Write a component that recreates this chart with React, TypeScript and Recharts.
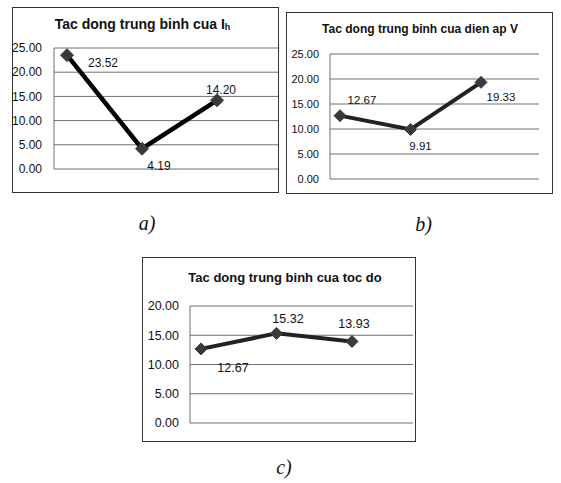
import React from 'react';
import { LineChart, Line, XAxis, YAxis, CartesianGrid } from 'recharts';

// factor levels (no x labels are drawn)
const levels = ['Muc 1', 'Muc 2', 'Muc 3'];

const ihValues = [23.52, 4.19, 14.2];
const voltageValues = [12.67, 9.91, 19.33];
const speedValues = [12.67, 15.32, 13.93];

const ticksTo25 = [0, 5, 10, 15, 20, 25];
const ticksTo20 = [0, 5, 10, 15, 20];

const toRows = (values: number[]) => levels.map((name, i) => ({ name, value: values[i] }));

const FONT = '"Liberation Sans", Arial, sans-serif';

interface PanelProps {
  left: number;
  top: number;
  width: number;
  height: number;
  values: number[];
  ticks: number[];
  yWidth: number;
  margin: { top: number; right: number; bottom: number; left: number };
  padding: { left: number; right: number };
  tickGap: number;
  tickFont: number;
  labelFont: number;
  labelOffsets: [number, number][];
  lineColor: string;
  lineWidth: number;
  markerSize: number;
}

const Diamond = ({ cx, cy, size }: any) => {
  if (cx == null || cy == null) return null;
  const r = size / 2;
  return (
    <polygon
      points={`${cx},${cy - r} ${cx + r},${cy} ${cx},${cy + r} ${cx - r},${cy}`}
      fill="#3a3a3a"
      stroke="#3a3a3a"
    />
  );
};

function Panel(p: PanelProps) {
  const data = toRows(p.values);
  const renderLabel = (props: any) => {
    const { x, y, value, index } = props;
    const [dx, dy] = p.labelOffsets[index] || [0, 0];
    return (
      <text
        key={`lbl-${index}`}
        x={x + dx}
        y={y + dy}
        textAnchor="middle"
        dominantBaseline="central"
        fontFamily={FONT}
        fontSize={p.labelFont}
        fill="#111"
      >
        {Number(value).toFixed(2)}
      </text>
    );
  };

  return (
    <>
      <div style={{ position: 'absolute', left: p.left, top: p.top }}>
        <LineChart width={p.width} height={p.height} data={data} margin={p.margin}>
          <CartesianGrid vertical={false} stroke="#6e6e6e" strokeWidth={1} />
          <XAxis dataKey="name" hide padding={p.padding} />
          <YAxis
            width={p.yWidth}
            domain={[0, p.ticks[p.ticks.length - 1]]}
            ticks={p.ticks}
            interval={0}
            tickFormatter={(v: number) => v.toFixed(2)}
            axisLine={{ stroke: '#6e6e6e' }}
            tickLine={false}
            tickSize={0}
            tickMargin={p.tickGap}
            tick={{ fontSize: p.tickFont, fill: '#111', fontFamily: FONT }}
          />
          <Line
            type="linear"
            dataKey="value"
            stroke={p.lineColor}
            strokeWidth={p.lineWidth}
            dot={(props: any) => <Diamond key={`d-${props.index}`} {...props} size={p.markerSize} />}
            activeDot={false}
            label={renderLabel}
            isAnimationActive={false}
          />
        </LineChart>
      </div>
      <div
        style={{
          position: 'absolute',
          left: p.left,
          top: p.top,
          width: p.width,
          height: p.height,
          border: '1px solid #333',
          boxSizing: 'border-box',
          pointerEvents: 'none',
        }}
      />
    </>
  );
}

const titleStyle = (left: number, top: number, size: number): React.CSSProperties => ({
  position: 'absolute',
  left,
  top,
  width: 0,
  display: 'flex',
  justifyContent: 'center',
  whiteSpace: 'nowrap',
  fontFamily: FONT,
  fontWeight: 'bold',
  fontSize: size,
  lineHeight: `${size}px`,
  color: '#111',
});

const captionStyle = (left: number, top: number): React.CSSProperties => ({
  position: 'absolute',
  left,
  top,
  width: 0,
  display: 'flex',
  justifyContent: 'center',
  whiteSpace: 'nowrap',
  fontFamily: '"Liberation Serif", "Times New Roman", serif',
  fontStyle: 'italic',
  fontSize: 20,
  lineHeight: '20px',
  color: '#111',
});

export default function App() {
  return (
    <div style={{ position: 'absolute', left: 0, top: 0, width: 561, height: 483, background: '#fff' }}>
      <Panel
        left={12}
        top={7}
        width={267}
        height={186}
        values={ihValues}
        ticks={ticksTo25}
        yWidth={42}
        margin={{ top: 41, right: 1, bottom: 24, left: 0 }}
        padding={{ left: 13, right: 61 }}
        tickGap={12}
        tickFont={12}
        labelFont={12}
        labelOffsets={[[36, 8], [17, 17], [4, -10]]}
        lineColor="#000"
        lineWidth={4.5}
        markerSize={13}
      />
      <div style={titleStyle(142.5, 17, 14)}>
        Tac dong trung binh cua I
        <span style={{ fontSize: 9, position: 'relative', top: 3 }}>h</span>
      </div>
      <div style={captionStyle(147, 213)}>a)</div>

      <Panel
        left={286}
        top={12}
        width={267}
        height={182}
        values={voltageValues}
        ticks={ticksTo25}
        yWidth={44}
        margin={{ top: 42, right: 14, bottom: 15, left: 0 }}
        padding={{ left: 10, right: 58 }}
        tickGap={11}
        tickFont={11}
        labelFont={11.5}
        labelOffsets={[[22, -16], [10, 16.5], [20, 15]]}
        lineColor="#222"
        lineWidth={4}
        markerSize={12}
      />
      <div style={titleStyle(420, 23, 12)}>Tac dong trung binh cua dien ap V</div>
      <div style={captionStyle(423.5, 214)}>b)</div>

      <Panel
        left={142}
        top={257}
        width={274}
        height={185}
        values={speedValues}
        ticks={ticksTo20}
        yWidth={48}
        margin={{ top: 49, right: 3, bottom: 19, left: 0 }}
        padding={{ left: 11, right: 61 }}
        tickGap={11}
        tickFont={12.5}
        labelFont={12.5}
        labelOffsets={[[32, 19], [11.5, -14], [2, -17.5]]}
        lineColor="#222"
        lineWidth={4}
        markerSize={12}
      />
      <div style={titleStyle(285, 271, 13)}>Tac dong trung binh cua toc do</div>
      <div style={captionStyle(284, 457)}>c)</div>
    </div>
  );
}
